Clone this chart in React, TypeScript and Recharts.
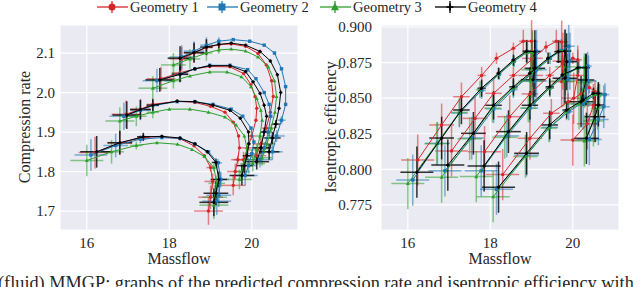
import { ScatterChart, Scatter, XAxis, YAxis, CartesianGrid, ErrorBar } from "recharts"

type Pt = [number, number]

const geometries = ["Geometry 1", "Geometry 2", "Geometry 3", "Geometry 4"]
const colors = ["#d62728", "#1f77b4", "#2ca02c", "#000000"]
const massflowTicks = [16, 18, 20]
const rateTicks = [1.7, 1.8, 1.9, 2.0, 2.1]
const effTicks = [0.775, 0.8, 0.825, 0.85, 0.875, 0.9]

// compression rate vs massflow, one list per speed line (top line first)
const rateG1: Pt[][] = [
  [[18.3, 2.085], [18.6, 2.1], [18.9, 2.114], [19.2, 2.121], [19.5, 2.123], [19.85, 2.117], [20.15, 2.099], [20.35, 2.07], [20.48, 2.03], [20.52, 1.99], [20.45, 1.95], [20.35, 1.91], [20.22, 1.87], [20.1, 1.84]],
  [[17.8, 2.035], [18.26, 2.05], [18.62, 2.06], [18.98, 2.066], [19.47, 2.065], [19.8, 2.048], [19.98, 2.02], [20.08, 1.99], [20.12, 1.96], [20.1, 1.93], [20.0, 1.89], [19.9, 1.86], [19.8, 1.83]],
  [[16.95, 1.945], [17.3, 1.958], [17.6, 1.97], [18.19, 1.978], [18.62, 1.975], [19.0, 1.965], [19.35, 1.95], [19.55, 1.925], [19.68, 1.89], [19.7, 1.86], [19.66, 1.83], [19.6, 1.8], [19.55, 1.765]],
  [[16.2, 1.848], [16.8, 1.872], [17.37, 1.887], [17.82, 1.888], [18.26, 1.883], [18.6, 1.865], [18.85, 1.84], [19.0, 1.81], [19.05, 1.775], [19.0, 1.735], [18.95, 1.7]],
]
const rateG2: Pt[][] = [
  [[18.3, 2.09], [18.6, 2.105], [18.9, 2.12], [19.2, 2.13], [19.55, 2.134], [19.95, 2.13], [20.3, 2.12], [20.55, 2.1], [20.72, 2.06], [20.82, 2.015], [20.82, 1.97], [20.72, 1.93], [20.6, 1.89], [20.5, 1.85]],
  [[17.7, 2.03], [18.26, 2.047], [18.62, 2.06], [18.98, 2.069], [19.47, 2.069], [19.9, 2.058], [20.1, 2.035], [20.3, 2.0], [20.42, 1.97], [20.46, 1.94], [20.4, 1.9], [20.3, 1.86], [20.2, 1.83]],
  [[16.9, 1.94], [17.3, 1.955], [17.6, 1.967], [18.19, 1.977], [18.62, 1.977], [19.06, 1.97], [19.5, 1.958], [19.78, 1.94], [19.98, 1.91], [20.05, 1.875], [20.0, 1.845], [19.92, 1.815], [19.84, 1.79]],
  [[16.1, 1.842], [16.7, 1.866], [17.3, 1.882], [17.82, 1.886], [18.26, 1.884], [18.62, 1.87], [18.95, 1.85], [19.18, 1.822], [19.25, 1.78], [19.2, 1.74], [19.15, 1.725]],
]
const rateG3: Pt[][] = [
  [[18.1, 2.07], [18.5, 2.085], [18.9, 2.1], [19.2, 2.108], [19.5, 2.11], [19.85, 2.105], [20.15, 2.09], [20.4, 2.065], [20.55, 2.03], [20.6, 1.99], [20.56, 1.95], [20.47, 1.91], [20.37, 1.87], [20.25, 1.835]],
  [[17.6, 2.011], [18.1, 2.03], [18.5, 2.042], [18.98, 2.052], [19.4, 2.052], [19.75, 2.04], [19.98, 2.015], [20.12, 1.985], [20.22, 1.955], [20.25, 1.93], [20.2, 1.89], [20.12, 1.855], [20.02, 1.82]],
  [[16.8, 1.928], [17.2, 1.94], [17.6, 1.95], [18.0, 1.958], [18.5, 1.958], [18.95, 1.95], [19.35, 1.938], [19.62, 1.918], [19.82, 1.89], [19.88, 1.86], [19.84, 1.83], [19.76, 1.8], [19.7, 1.78]],
  [[16.0, 1.828], [16.6, 1.85], [17.2, 1.866], [17.7, 1.873], [18.2, 1.869], [18.55, 1.856], [18.85, 1.838], [19.08, 1.81], [19.15, 1.77], [19.1, 1.735], [19.08, 1.715]],
]
const rateG4: Pt[][] = [
  [[18.26, 2.087], [18.6, 2.101], [18.9, 2.115], [19.2, 2.122], [19.5, 2.125], [19.85, 2.12], [20.2, 2.104], [20.45, 2.08], [20.62, 2.045], [20.7, 2.0], [20.66, 1.96], [20.58, 1.92], [20.5, 1.885], [20.42, 1.85]],
  [[17.77, 2.032], [18.26, 2.046], [18.62, 2.06], [18.98, 2.068], [19.47, 2.068], [19.85, 2.053], [20.03, 2.027], [20.2, 1.998], [20.3, 1.968], [20.36, 1.94], [20.3, 1.9], [20.22, 1.86], [20.12, 1.825]],
  [[16.97, 1.943], [17.3, 1.957], [17.6, 1.968], [18.19, 1.978], [18.62, 1.977], [19.06, 1.968], [19.47, 1.955], [19.72, 1.935], [19.92, 1.9], [19.93, 1.87], [19.88, 1.84], [19.82, 1.815], [19.76, 1.79]],
  [[16.24, 1.85], [16.8, 1.873], [17.37, 1.888], [17.82, 1.889], [18.26, 1.885], [18.62, 1.87], [18.92, 1.85], [19.13, 1.823], [19.2, 1.78], [19.13, 1.745], [19.08, 1.722]],
]
const rateErrX = [
  [0.3, 0.25, 0.15, 0, 0, 0, 0, 0, 0, 0, 0, 0.1, 0.2, 0.25],
  [0.35, 0.2, 0, 0, 0, 0, 0, 0, 0, 0, 0.1, 0.2, 0.3],
  [0.35, 0.25, 0.15, 0, 0, 0, 0, 0, 0, 0, 0.1, 0.2, 0.3],
  [0.4, 0.3, 0.15, 0, 0, 0, 0, 0.1, 0.2, 0.3, 0.35],
]
const rateErrY = [
  [0.03, 0.025, 0.02, 0.01, 0, 0, 0, 0, 0, 0, 0, 0.01, 0.015, 0.02],
  [0.03, 0.02, 0, 0, 0, 0, 0, 0, 0, 0, 0.01, 0.015, 0.02],
  [0.035, 0.025, 0.015, 0, 0, 0, 0, 0, 0, 0, 0.01, 0.02, 0.025],
  [0.04, 0.03, 0.01, 0, 0, 0, 0, 0.01, 0.02, 0.03, 0.035],
]

// isentropic efficiency vs massflow, one list per speed line (lowest speed first)
const effG1: Pt[][] = [
  [[16.24, 0.8065], [16.82, 0.8312], [17.3, 0.851], [17.79, 0.866], [18.15, 0.878], [18.56, 0.885], [18.8, 0.89], [19.0, 0.89], [19.02, 0.878], [18.98, 0.866]],
  [[17.06, 0.8129], [17.63, 0.8358], [18.08, 0.8534], [18.56, 0.866], [19.0, 0.877], [19.35, 0.886], [19.6, 0.89], [19.73, 0.8895], [19.76, 0.876], [19.73, 0.8616]],
  [[17.86, 0.8124], [18.47, 0.837], [18.96, 0.853], [19.44, 0.866], [19.75, 0.874], [20.0, 0.878], [20.12, 0.877], [20.12, 0.866], [20.02, 0.85]],
  [[18.3, 0.7963], [18.96, 0.8218], [19.48, 0.8394], [19.89, 0.8475], [20.2, 0.853], [20.4, 0.8575], [20.54, 0.8546], [20.5, 0.845], [20.35, 0.832], [20.0, 0.8206]],
]
const effG2: Pt[][] = [
  [[16.12, 0.7925], [16.72, 0.8183], [17.25, 0.8395], [17.79, 0.8555], [18.22, 0.867], [18.58, 0.876], [18.9, 0.8825], [19.12, 0.883], [19.12, 0.87], [19.08, 0.862]],
  [[16.9, 0.799], [17.55, 0.822], [18.08, 0.8425], [18.56, 0.856], [19.0, 0.867], [19.45, 0.878], [19.72, 0.8835], [19.9, 0.8865], [19.93, 0.876], [19.88, 0.863]],
  [[17.78, 0.799], [18.4, 0.8235], [18.96, 0.843], [19.44, 0.857], [19.8, 0.866], [20.15, 0.8715], [20.36, 0.8725], [20.38, 0.862], [20.25, 0.846]],
  [[18.15, 0.786], [18.88, 0.81], [19.44, 0.8295], [19.9, 0.8405], [20.3, 0.848], [20.6, 0.853], [20.78, 0.8525], [20.75, 0.844], [20.62, 0.835], [20.4, 0.821]],
]
const effG3: Pt[][] = [
  [[16.0, 0.79], [16.7, 0.818], [17.25, 0.84], [17.75, 0.856], [18.2, 0.867], [18.56, 0.876], [18.88, 0.882], [19.02, 0.882], [19.0, 0.87], [18.98, 0.862]],
  [[16.82, 0.7945], [17.5, 0.8215], [18.05, 0.843], [18.56, 0.857], [19.0, 0.8675], [19.42, 0.878], [19.68, 0.883], [19.82, 0.8835], [19.82, 0.872], [19.78, 0.862]],
  [[17.66, 0.7949], [18.35, 0.8225], [18.92, 0.843], [19.44, 0.857], [19.78, 0.866], [20.1, 0.871], [20.28, 0.8715], [20.28, 0.861], [20.15, 0.846]],
  [[18.07, 0.7808], [18.85, 0.809], [19.42, 0.829], [19.85, 0.8405], [20.25, 0.848], [20.52, 0.8525], [20.65, 0.852], [20.6, 0.843], [20.5, 0.834], [20.28, 0.82]],
]
const effG4: Pt[][] = [
  [[16.22, 0.798], [16.82, 0.822], [17.3, 0.8417], [17.79, 0.857], [18.2, 0.8675], [18.56, 0.8768], [18.88, 0.883], [19.08, 0.8827], [19.08, 0.871], [19.04, 0.863]],
  [[16.97, 0.803], [17.59, 0.8253], [18.08, 0.845], [18.56, 0.858], [18.96, 0.8675], [19.4, 0.878], [19.65, 0.8827], [19.81, 0.883], [19.85, 0.8756], [19.81, 0.864]],
  [[17.85, 0.8024], [18.44, 0.8265], [18.96, 0.845], [19.44, 0.858], [19.75, 0.8663], [20.12, 0.8714], [20.32, 0.8714], [20.32, 0.8628], [20.2, 0.8475]],
  [[18.2, 0.7875], [18.88, 0.8113], [19.44, 0.8312], [19.85, 0.8417], [20.25, 0.8487], [20.5, 0.8534], [20.62, 0.8534], [20.62, 0.8452], [20.54, 0.837], [20.33, 0.8218]],
]
const effErrX = [
  [0.4, 0.3, 0.2, 0.1, 0.05, 0.05, 0.1, 0.15, 0.25, 0.3],
  [0.4, 0.3, 0.2, 0.1, 0.05, 0.05, 0.1, 0.15, 0.25, 0.3],
  [0.4, 0.3, 0.2, 0.1, 0.05, 0.05, 0.1, 0.2, 0.3],
  [0.4, 0.3, 0.2, 0.1, 0.05, 0.05, 0.1, 0.15, 0.25, 0.3],
]
const effErrY = [
  [0.018, 0.015, 0.01, 0.006, 0.004, 0.004, 0.008, 0.015, 0.02, 0.018],
  [0.018, 0.015, 0.01, 0.006, 0.004, 0.004, 0.008, 0.015, 0.02, 0.018],
  [0.018, 0.015, 0.01, 0.006, 0.004, 0.004, 0.01, 0.018, 0.018],
  [0.018, 0.015, 0.01, 0.006, 0.004, 0.004, 0.008, 0.015, 0.018, 0.018],
]

const serif = "Liberation Serif, Times New Roman, serif"
const ink = "#262626"

function Marker({ cx, cy, g, size }: { cx: number; cy: number; g: number; size: number }) {
  const c = colors[g]
  if (g === 0) return <circle cx={cx} cy={cy} r={size / 2} fill={c} />
  if (g === 1) return <rect x={cx - size / 2} y={cy - size / 2} width={size} height={size} fill={c} />
  if (g === 2)
    return (
      <polygon
        points={`${cx},${cy - size * 0.6} ${cx - size * 0.58},${cy + size * 0.45} ${cx + size * 0.58},${cy + size * 0.45}`}
        fill={c}
      />
    )
  return (
    <path
      d={`M${cx - size / 2},${cy}H${cx + size / 2}M${cx},${cy - size / 2}V${cy + size / 2}`}
      stroke={c}
      strokeWidth={1.6}
    />
  )
}

interface PanelProps {
  sets: Pt[][][]
  errX: number[][]
  errY: number[][]
  yDomain: [number, number]
  yTicks: number[]
  yFormat: (v: number) => string
  yWidth: number
  tickGap: number
  right: number
}

function Panel({ sets, errX, errY, yDomain, yTicks, yFormat, yWidth, tickGap, right }: PanelProps) {
  const tick = { fill: ink, fontSize: 15, style: { fontFamily: serif } }
  return (
    <ScatterChart width={310} height={260} margin={{ top: 25, right, bottom: 10, left: 10 }}>
      <CartesianGrid fill="#eaeaf2" fillOpacity={1} stroke="#ffffff" strokeWidth={1.2} />
      <XAxis
        type="number"
        dataKey="x"
        domain={[15.35, 21.12]}
        ticks={massflowTicks}
        interval={0}
        allowDataOverflow
        axisLine={false}
        tickLine={false}
        tickSize={0}
        tickMargin={7}
        height={20}
        tick={tick}
      />
      <YAxis
        type="number"
        dataKey="y"
        domain={yDomain}
        ticks={yTicks}
        interval={0}
        allowDataOverflow
        axisLine={false}
        tickLine={false}
        tickSize={0}
        tickMargin={tickGap}
        width={yWidth}
        tick={tick}
        tickFormatter={yFormat}
      />
      {sets.map((lines, g) =>
        lines.map((pts, i) => (
          <Scatter
            key={`${g}-${i}`}
            name={geometries[g]}
            data={pts.map(([x, y], j) => ({ x, y, ex: errX[i][j], ey: errY[i][j] }))}
            line={{ stroke: colors[g], strokeWidth: 1 }}
            lineType="joint"
            shape={(p: any) => <Marker cx={p.cx} cy={p.cy} g={g} size={3.4} />}
            isAnimationActive={false}
          >
            <ErrorBar
              dataKey="ex"
              direction="x"
              width={0}
              stroke={colors[g]}
              strokeOpacity={g === 3 ? 0.8 : 0.55}
              strokeWidth={1.5}
              isAnimationActive={false}
            />
            <ErrorBar
              dataKey="ey"
              direction="y"
              width={0}
              stroke={colors[g]}
              strokeOpacity={g === 3 ? 0.8 : 0.55}
              strokeWidth={1.5}
              isAnimationActive={false}
            />
          </Scatter>
        ))
      )}
    </ScatterChart>
  )
}

function Legend() {
  const starts = [97, 207, 320, 435]
  return (
    <svg width={640} height={18} style={{ position: "absolute", left: 0, top: 0 }}>
      {geometries.map((name, g) => {
        const x0 = starts[g]
        const cx = x0 + 15
        return (
          <g key={name}>
            <line x1={x0} x2={x0 + 31} y1={7} y2={7} stroke={colors[g]} strokeWidth={1.3} />
            <line x1={cx} x2={cx} y1={1} y2={13} stroke={colors[g]} strokeWidth={1.3} />
            <Marker cx={cx} cy={7} g={g} size={7} />
            <text x={x0 + 33} y={11.5} fontSize={14.5} style={{ fontFamily: serif }} fill={ink}>
              {name}
            </text>
          </g>
        )
      })}
    </svg>
  )
}

const labelStyle = {
  position: "absolute" as const,
  fontFamily: serif,
  fontSize: 16,
  color: ink,
  whiteSpace: "nowrap" as const,
  lineHeight: "18px",
}

export default function App() {
  return (
    <div
      style={{
        position: "absolute",
        left: 0,
        top: 0,
        width: 640,
        height: 287,
        background: "#ffffff",
        overflow: "hidden",
        fontFamily: serif,
      }}
    >
      <Legend />
      <div style={{ position: "absolute", left: 0, top: 0 }}>
        <Panel
          sets={[rateG1, rateG2, rateG3, rateG4]}
          errX={rateErrX}
          errY={rateErrY}
          yDomain={[1.652, 2.171]}
          yTicks={rateTicks}
          yFormat={(v) => v.toFixed(1)}
          yWidth={50}
          tickGap={5}
          right={12}
        />
      </div>
      <div style={{ position: "absolute", left: 320, top: 0 }}>
        <Panel
          sets={[effG1, effG2, effG3, effG4]}
          errX={effErrX}
          errY={effErrY}
          yDomain={[0.7574, 0.9014]}
          yTicks={effTicks}
          yFormat={(v) => v.toFixed(3)}
          yWidth={51}
          tickGap={9}
          right={11}
        />
      </div>
      <div style={{ ...labelStyle, left: 25, top: 127, transform: "translate(-50%, -50%) rotate(-90deg)" }}>
        Compression rate
      </div>
      <div style={{ ...labelStyle, left: 331, top: 127, transform: "translate(-50%, -50%) rotate(-90deg)" }}>
        Isentropic efficiency
      </div>
      <div style={{ ...labelStyle, left: 179, top: 259, transform: "translate(-50%, -50%)" }}>Massflow</div>
      <div style={{ ...labelStyle, left: 500, top: 259, transform: "translate(-50%, -50%)" }}>Massflow</div>
      <div style={{ ...labelStyle, fontSize: 18.3, left: -2, top: 273, lineHeight: "21px" }}>
        (fluid) MMGP: graphs of the predicted compression rate and isentropic efficiency with
      </div>
    </div>
  )
}
